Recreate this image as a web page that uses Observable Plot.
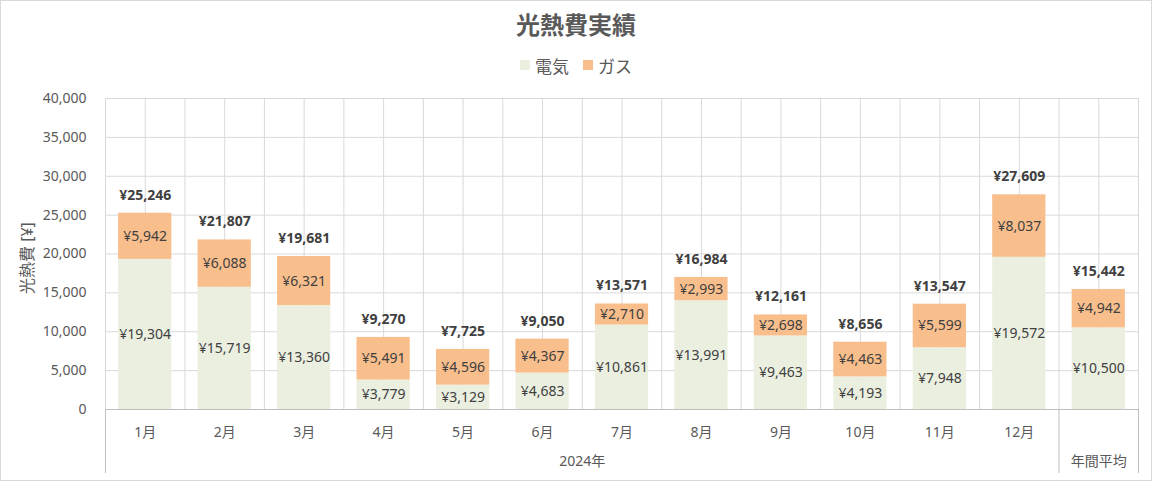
<!DOCTYPE html>
<html><head><meta charset="utf-8">
<script src="https://cdn.jsdelivr.net/npm/d3@7"></script>
<script src="https://cdn.jsdelivr.net/npm/@observablehq/plot@0.6"></script>
<style>
body{margin:0;background:#fff;font-family:"Noto Sans","Noto Sans CJK JP",sans-serif;}
#chart{position:relative;width:1152px;height:481px;box-sizing:border-box;border:1px solid #d9d9d9;background:#fff;overflow:hidden;}
#title{height:48px;line-height:48px;text-align:center;font-size:24px;font-weight:bold;color:#595959;}
#legend{height:32px;padding-bottom:4px;display:flex;justify-content:center;align-items:center;gap:14px;font-size:17px;color:#595959;}
.item{display:flex;align-items:center;}
.sw{display:inline-block;width:10px;height:10px;margin-right:5px;}
svg{display:block;}
</style></head><body>
<div id="chart"><div id="title">光熱費実績</div><div id="legend"></div><div id="plot"></div></div>
<script>
const categories = ["1月","2月","3月","4月","5月","6月","7月","8月","9月","10月","11月","12月","年間平均"];
const seriesNames = ["電気","ガス"];
const seriesColors = ["#EBEFE0","#F8BE8C"];
const electric = [19304,15719,13360,3779,3129,4683,10861,13991,9463,4193,7948,19572,10500];
const gas = [5942,6088,6321,5491,4596,4367,2710,2993,2698,4463,5599,8037,4942];
const totals = [25246,21807,19681,9270,7725,9050,13571,16984,12161,8656,13547,27609,15442];
const yTicks = [0,5000,10000,15000,20000,25000,30000,35000,40000];
const groupLabels = ["2024年","年間平均"];
const yLabel = "光熱費 [¥]";

const rows = [];
categories.forEach((c,i)=>{
  rows.push({cat:c, series:seriesNames[0], value:electric[i]});
  rows.push({cat:c, series:seriesNames[1], value:gas[i]});
});
const totalRows = categories.map((c,i)=>({cat:c,total:totals[i]}));
const comma = d3.format(",");
const yen = v => "¥" + comma(v);

// legend
const lg = document.getElementById("legend");
seriesNames.forEach((s,i)=>{
  const it = document.createElement("span"); it.className="item";
  const sw = document.createElement("span"); sw.className="sw"; sw.style.background=seriesColors[i];
  it.appendChild(sw); it.appendChild(document.createTextNode(s)); lg.appendChild(it);
});

const W = 1150, H = 395, ML = 104, MR = 13, MT = 13, MB = 71;
const step = (W - ML - MR) / categories.length;
const firstCat = categories[0], lastMonth = categories[11], avgCat = categories[12], midMonth = categories[5];
const grid = "#d9d9d9", axisC = "#bfbfbf";

const chart = Plot.plot({
  width: W, height: H, marginLeft: ML, marginRight: MR, marginTop: MT, marginBottom: MB,
  style: {fontFamily: '"Noto Sans","Noto Sans CJK JP",sans-serif', fontSize: "14px", color: "#595959", background: "#fff", overflow: "visible"},
  x: {domain: categories, paddingInner: 0.33, paddingOuter: 0.165, round: false, label: null},
  y: {domain: [0, 40000], label: null},
  color: {domain: seriesNames, range: seriesColors},
  marks: [
    Plot.ruleY(yTicks, {stroke: grid}),
    Plot.ruleX(categories, {x: d => d, stroke: grid}),
    Plot.ruleX(categories, {x: d => d, dx: step/2, stroke: grid}),
    Plot.ruleX([firstCat], {x: d => d, dx: -step/2, stroke: grid}),
    Plot.barY(rows, {x: "cat", y: "value", fill: "series"}),
    Plot.ruleY([0], {stroke: axisC}),
    Plot.ruleX([firstCat], {x: d => d, dx: -step/2, y1: 0, y2: 0, insetBottom: -64, stroke: axisC}),
    Plot.ruleX([lastMonth, avgCat], {x: d => d, dx: step/2, y1: 0, y2: 0, insetBottom: -64, stroke: axisC}),
    Plot.text(rows, Plot.stackY({x: "cat", y: "value", text: d => yen(d.value), fill: "#404040", fontSize: 14})),
    Plot.text(totalRows, {x: "cat", y: "total", text: d => yen(d.total), dy: -18, fontWeight: "bold", fill: "#404040", fontSize: 14}),
    Plot.axisY({ticks: yTicks, tickSize: 0, tickPadding: 19, tickFormat: comma, label: null}),
    Plot.axisX({tickSize: 0, tickPadding: 18, tickFormat: d => d === avgCat ? "" : d, label: null}),
    Plot.text([groupLabels[0]], {x: () => midMonth, dx: step/2, frameAnchor: "bottom", dy: 56, text: d => d, fill: "#595959", fontSize: 14}),
    Plot.text([groupLabels[1]], {x: () => avgCat, frameAnchor: "bottom", dy: 56, text: d => d, fill: "#595959", fontSize: 14}),
    Plot.text([yLabel], {frameAnchor: "left", dx: -78, dy: 40, rotate: -90, text: d => d, fill: "#595959", fontSize: 16})
  ]
});
document.getElementById("plot").appendChild(chart);
</script>
</body></html>
